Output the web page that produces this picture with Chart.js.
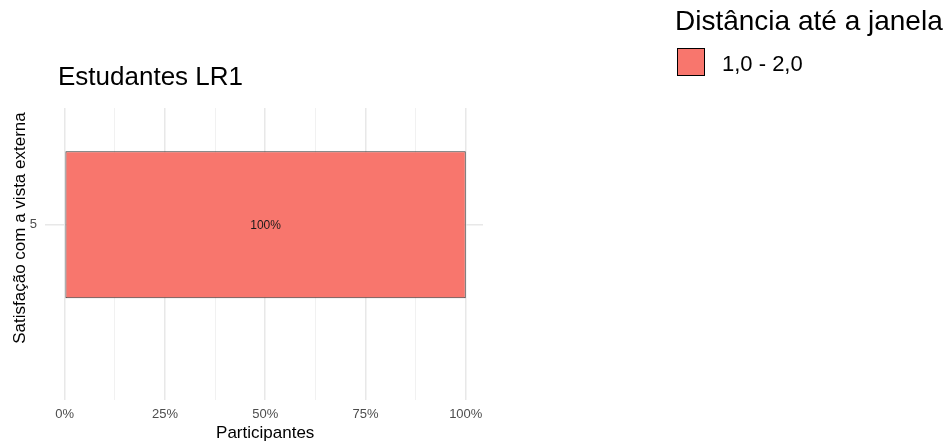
<!DOCTYPE html>
<html>
<head>
<meta charset="utf-8">
<script src="https://cdn.jsdelivr.net/npm/chart.js@4/dist/chart.umd.min.js"></script>
<style>
  html, body { margin: 0; padding: 0; background: #ffffff; }
  canvas { display: block; }
</style>
</head>
<body>
<canvas id="c" width="948" height="443"></canvas>
<script>
// ---- Data ----
const categories = ['5'];
const seriesName = '1,0 - 2,0';
const seriesValues = [100];
const valueLabels = ['100%'];
const xTickValues = [0, 12.5, 25, 37.5, 50, 62.5, 75, 87.5, 100];
const chartTitle = 'Estudantes LR1';
const legendTitle = 'Distância até a janela';
const xAxisTitle = 'Participantes';
const yAxisTitle = 'Satisfação com a vista externa';

const FONT = '"Liberation Sans", Arial, Helvetica, sans-serif';
const BAR_COLOR = '#F8766D';

const annotatePlugin = {
  id: 'annotate',
  afterDraw(chart) {
    const ctx = chart.ctx;
    const xs = chart.scales.x;
    ctx.save();
    // Chart title
    ctx.fillStyle = '#000000';
    ctx.textAlign = 'left';
    ctx.textBaseline = 'alphabetic';
    ctx.font = '26px ' + FONT;
    ctx.fillText(chartTitle, 58, 85);
    // Legend title
    ctx.font = '28px ' + FONT;
    ctx.fillText(legendTitle, 675, 30);
    // Legend entry
    const ds = chart.data.datasets[0];
    ctx.fillStyle = ds.backgroundColor;
    ctx.fillRect(677, 48, 28, 28);
    ctx.strokeStyle = '#000000';
    ctx.lineWidth = 1;
    ctx.strokeRect(677.5, 48.5, 27, 27);
    ctx.fillStyle = '#000000';
    ctx.font = '22px ' + FONT;
    ctx.fillText(ds.label, 722, 71);
    // X axis title (centred on the data range)
    ctx.font = '17px ' + FONT;
    ctx.textAlign = 'center';
    ctx.fillText(xAxisTitle, (xs.getPixelForValue(0) + xs.getPixelForValue(100)) / 2, 438);
    // Y axis title
    ctx.save();
    ctx.translate(25, 228);
    ctx.rotate(-Math.PI / 2);
    ctx.fillText(yAxisTitle, 0, 0);
    ctx.restore();
    // Bar value labels
    const meta = chart.getDatasetMeta(0);
    ctx.font = '12px ' + FONT;
    ctx.textBaseline = 'middle';
    ctx.fillStyle = '#1a1a1a';
    meta.data.forEach((el, i) => {
      const cx = (el.x + el.base) / 2;
      ctx.fillText(valueLabels[i], cx, el.y + 1);
    });
    ctx.restore();
  }
};

new Chart(document.getElementById('c'), {
  type: 'bar',
  data: {
    datasets: [{
      label: seriesName,
      data: seriesValues.map((v, i) => ({ x: v, y: i })),
      backgroundColor: BAR_COLOR,
      borderColor: '#333333',
      borderWidth: 1,
      borderSkipped: false,
      barPercentage: 0.503,
      categoryPercentage: 1.0
    }]
  },
  options: {
    indexAxis: 'y',
    responsive: false,
    animation: false,
    devicePixelRatio: 1,
    layout: { padding: { left: 0, top: 108, right: 465, bottom: 0 } },
    plugins: {
      legend: { display: false },
      title: { display: false },
      tooltip: { enabled: false }
    },
    scales: {
      x: {
        type: 'linear',
        min: -4.9,
        max: 104.3,
        offset: false,
        afterBuildTicks: (s) => { s.ticks = xTickValues.map(v => ({ value: v })); },
        afterFit: (s) => { s.height = 43; },
        border: { display: false },
        grid: {
          offset: false,
          drawTicks: false,
          color: (c) => (c.tick && c.tick.value % 25 === 0) ? '#e8e8e8' : '#f1f1f1',
          lineWidth: (c) => (c.tick && c.tick.value % 25 === 0) ? 1.5 : 1
        },
        ticks: {
          autoSkip: false,
          maxRotation: 0,
          padding: 7,
          color: '#4d4d4d',
          font: { family: FONT, size: 13 },
          callback: (v) => (v % 25 === 0) ? v + '%' : ''
        }
      },
      y: {
        type: 'linear',
        min: -1.5,
        max: 1.0,
        offset: false,
        afterBuildTicks: (s) => { s.ticks = categories.map((c, i) => ({ value: i })); },
        afterFit: (s) => { s.width = 45; },
        border: { display: false },
        grid: { offset: false, drawTicks: false, color: '#e8e8e8', lineWidth: 1.5 },
        ticks: {
          padding: 8,
          color: '#4d4d4d',
          font: { family: FONT, size: 13 },
          callback: (v) => categories[v] !== undefined ? categories[v] : ''
        }
      }
    }
  },
  plugins: [annotatePlugin]
});
</script>
</body>
</html>
